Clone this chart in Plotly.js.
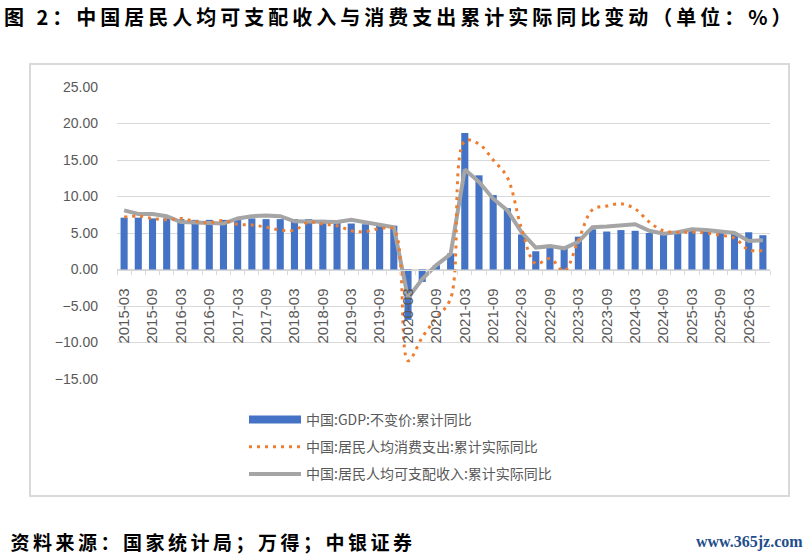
<!DOCTYPE html>
<html>
<head>
<meta charset="utf-8">
<script src="https://cdn.plot.ly/plotly-3.0.1.min.js"></script>
<style>
  html, body { margin: 0; padding: 0; background: #fff; }
  #chart { width: 809px; height: 558px; }
  /* 原図の字間に合わせる */
  #chart .gtitle { letter-spacing: 4px; }
  #chart g.annotation[data-index="0"] text { letter-spacing: 3.5px; }
</style>
</head>
<body>
<div id="chart"></div>
<script>
// ------------------------------------------------------------
// データ（累計同比, %）
// ------------------------------------------------------------
const quarters = [
  '2015-03', '2015-06', '2015-09', '2015-12',
  '2016-03', '2016-06', '2016-09', '2016-12',
  '2017-03', '2017-06', '2017-09', '2017-12',
  '2018-03', '2018-06', '2018-09', '2018-12',
  '2019-03', '2019-06', '2019-09', '2019-12',
  '2020-03', '2020-06', '2020-09', '2020-12',
  '2021-03', '2021-06', '2021-09', '2021-12',
  '2022-03', '2022-06', '2022-09', '2022-12',
  '2023-03', '2023-06', '2023-09', '2023-12',
  '2024-03', '2024-06', '2024-09', '2024-12',
  '2025-03', '2025-06', '2025-09', '2025-12',
  '2026-03', '2026-06'
]

// 中国:GDP:不变价:累计同比
const gdpYoy = [
  7.1, 7.1, 7.0, 7.0,
  6.9, 6.8, 6.8, 6.8,
  6.9, 7.0, 6.9, 6.9,
  6.9, 6.9, 6.8, 6.7,
  6.3, 6.2, 6.1, 6.0,
  -6.9, -1.7, 0.6, 2.2,
  18.7, 12.9, 10.2, 8.4,
  4.8, 2.5, 3.0, 3.0,
  4.5, 5.5, 5.2, 5.4,
  5.3, 5.0, 4.8, 5.0,
  5.4, 5.3, 5.2, 5.0,
  5.1, 4.7
]

// 中国:居民人均消费支出:累计实际同比
const consumeYoy = [
  7.2, 7.3, 7.0, 6.8,
  7.0, 6.6, 6.4, 6.7,
  6.2, 6.1, 5.8, 5.4,
  5.4, 6.5, 6.2, 6.0,
  5.3, 5.2, 5.6, 5.5,
  -12.5, -9.3, -6.6, -4.0,
  17.6, 17.2, 15.0, 12.6,
  5.6, 0.8, 1.5, -0.2,
  4.0, 8.2, 8.7, 9.0,
  8.3, 6.5, 5.3, 5.1,
  5.1, 5.0, 4.7, 4.3,
  2.7, 2.6
]

// 中国:居民人均可支配收入:累计实际同比
const incomeYoy = [
  8.1, 7.6, 7.6, 7.3,
  6.5, 6.4, 6.3, 6.3,
  7.0, 7.3, 7.4, 7.3,
  6.6, 6.6, 6.6, 6.5,
  6.8, 6.5, 6.1, 5.8,
  -3.9, -1.3, 0.6, 2.1,
  13.7, 12.0, 9.7, 8.1,
  5.1, 3.0, 3.2, 2.9,
  3.8, 5.8, 5.9, 6.1,
  6.2, 5.3, 4.9, 5.1,
  5.5, 5.4, 5.2, 5.0,
  3.9, 4.0
]

const seriesNames = [
  '中国:GDP:不变价:累计同比',
  '中国:居民人均消费支出:累计实际同比',
  '中国:居民人均可支配收入:累计实际同比'
]

const yTicks = [-15, -10, -5, 0, 5, 10, 15, 20, 25]

// 横軸ラベルは2四半期ごと
const xLabels = quarters.map((q, i) => (i % 2 === 0 ? q : ''))


// ------------------------------------------------------------
// レイアウト
// ------------------------------------------------------------
const W = 809, H = 558
const M = { l: 117, r: 39, t: 87, b: 179 }
const pw = W - M.l - M.r
const ph = H - M.t - M.b
// 画面のpx -> paper座標
const px = x => (x - M.l) / pw
const py = y => (H - M.b - y) / ph

const gray = '#595959'
const gridColor = '#d9d9d9'
const blue = '#4472C4'

const traces = [
  {
    x: quarters,
    y: gdpYoy,
    type: 'bar',
    name: seriesNames[0],
    showlegend: false,
    marker: { color: blue }
  },
  // 凡例用（Excel風の横長の棒記号）
  {
    x: [quarters[0]],
    y: [null],
    type: 'scatter',
    mode: 'lines',
    name: seriesNames[0],
    legendrank: 1,
    legendgroup: 'a',
    line: { color: blue, width: 8 }
  },
  {
    x: quarters,
    y: incomeYoy,
    type: 'scatter',
    mode: 'lines',
    name: seriesNames[2],
    legendrank: 3,
    legendgroup: 'c',
    line: { color: '#A5A5A5', width: 4 }
  },
  {
    x: quarters,
    y: consumeYoy,
    type: 'scatter',
    mode: 'lines',
    name: seriesNames[1],
    legendrank: 2,
    legendgroup: 'b',
    line: { color: '#ED7D31', width: 3, dash: '3px,5px', shape: 'spline', smoothing: 1 }
  }
]

const layout = {
  width: W,
  height: H,
  margin: M,
  paper_bgcolor: '#fff',
  plot_bgcolor: '#fff',
  font: { family: 'Liberation Sans, Noto Sans CJK SC, sans-serif', color: gray, size: 14 },
  bargap: 0.5,
  showlegend: true,
  title: {
    text: '图 2：中国居民人均可支配收入与消费支出累计实际同比变动（单位：%）',
    font: { family: 'Noto Sans CJK SC', size: 20, color: '#000', weight: 'bold' },
    xref: 'container', yref: 'container',
    x: 4 / W, xanchor: 'left',
    y: 1 - 18 / H, yanchor: 'middle'
  },
  xaxis: {
    type: 'category',
    anchor: 'free',
    position: 15 / 40,
    tickmode: 'array',
    tickvals: quarters,
    ticktext: xLabels,
    tickangle: -90,
    tickson: 'boundaries',
    ticks: 'outside',
    ticklen: 4,
    tickcolor: gridColor,
    ticklabelstandoff: 12,
    showline: true,
    linecolor: gridColor,
    linewidth: 1,
    showgrid: false,
    tickfont: { size: 15, color: gray }
  },
  yaxis: {
    range: [-15, 25],
    tickvals: yTicks,
    tickformat: '.2f',
    showgrid: true,
    gridcolor: gridColor,
    zeroline: false,
    showline: false,
    ticklabelstandoff: 18,
    tickfont: { size: 14, color: gray }
  },
  legend: {
    x: px(244),
    y: py(404),
    xanchor: 'left',
    yanchor: 'top',
    orientation: 'v',
    itemwidth: 52,
    tracegroupgap: 6,
    font: { size: 14, color: gray, family: 'Noto Sans CJK SC, sans-serif' },
    bgcolor: 'rgba(0,0,0,0)'
  },
  shapes: [
    // 図の外枠
    {
      type: 'rect', xref: 'paper', yref: 'paper',
      x0: px(30), x1: px(789), y0: py(496), y1: py(64),
      line: { color: gridColor, width: 2 },
      fillcolor: 'rgba(0,0,0,0)', layer: 'below'
    }
  ],
  annotations: [
    {
      text: '资料来源：国家统计局；万得；中银证券',
      xref: 'paper', yref: 'paper',
      x: px(40), y: py(541), xanchor: 'left', yanchor: 'middle',
      showarrow: false,
      font: { family: 'Noto Sans CJK SC', size: 19, color: '#000', weight: 'bold' }
    },
    {
      text: 'www.365jz.com',
      xref: 'paper', yref: 'paper',
      x: px(805), y: py(542), xanchor: 'right', yanchor: 'middle',
      showarrow: false,
      font: { family: 'Liberation Serif', size: 16, color: '#1f4e8c', weight: 'bold' }
    }
  ]
}

Plotly.newPlot('chart', traces, layout, { staticPlot: true })
</script>
</body>
</html>
